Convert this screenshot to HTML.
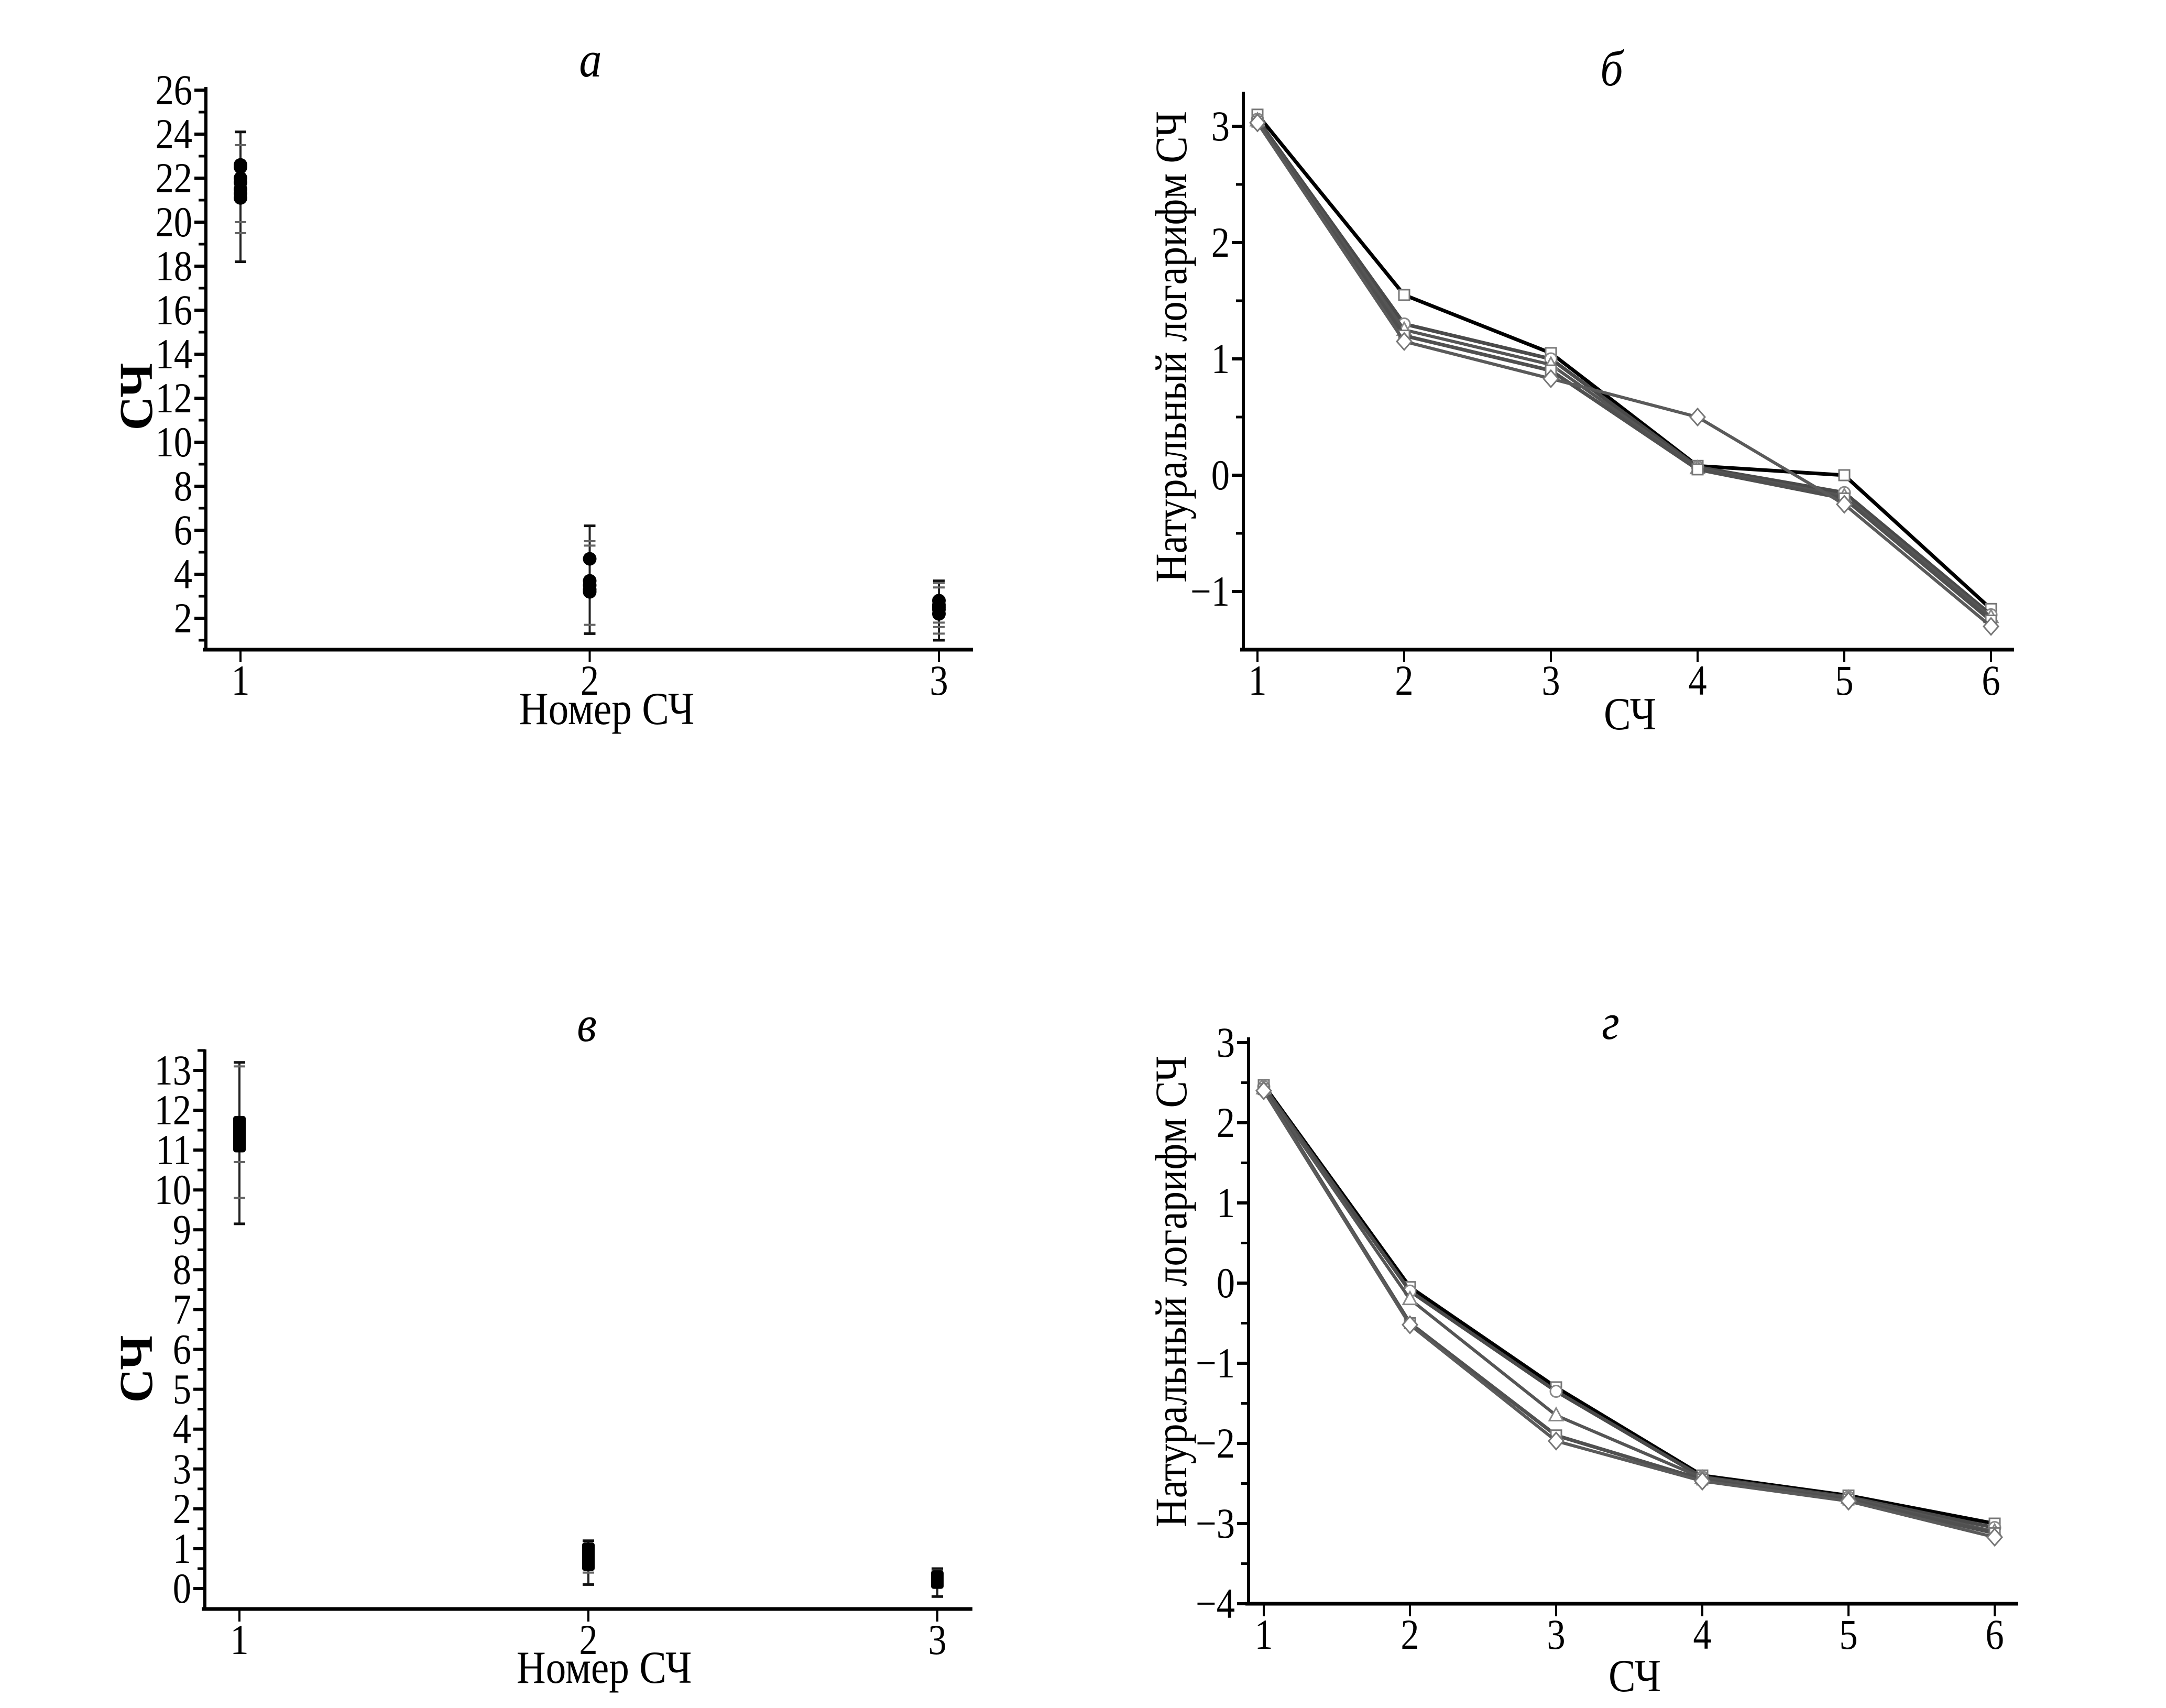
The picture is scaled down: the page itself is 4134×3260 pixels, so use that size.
<!DOCTYPE html>
<html><head><meta charset="utf-8"><style>
html,body{margin:0;padding:0;background:#fff;}
svg{display:block;}
text{font-family:"Liberation Serif",serif;fill:#000;}
</style></head><body>
<svg id="fig" width="4134" height="3260" viewBox="0 0 4134 3260" xmlns="http://www.w3.org/2000/svg"></svg>
<script>
// ---- Panel a data ----
const aCats = [1, 2, 3];
const aPoints = [[21.1, 21.3, 21.5, 21.8, 22.0, 22.5, 22.6],[3.2, 3.3, 3.5, 3.7, 4.7],[2.2, 2.4, 2.5, 2.6, 2.8]];
const aErrLo = [18.2, 1.3, 1.0];
const aErrHi = [24.1, 6.2, 3.7];
const aCaps = [[19.5, 20.0, 23.5],[1.7, 5.3, 5.5],[1.3, 1.6, 1.8, 3.4, 3.6]];
const aYTicks = [2,4,6,8,10,12,14,16,18,20,22,24,26];
// ---- Panel в data ----
const vCats = [1, 2, 3];
const vPoints = [[11.1, 11.2, 11.3, 11.4, 11.5, 11.6, 11.7],[0.6, 0.7, 0.8, 0.9, 1.0],[0.15, 0.2, 0.25, 0.3]];
const vErrLo = [9.15, 0.1, -0.2];
const vErrHi = [13.2, 1.2, 0.5];
const vCaps = [[9.8, 10.7, 13.1],[0.4],[0.45]];
const vYTicks = [0,1,2,3,4,5,6,7,8,9,10,11,12,13];
// ---- Panel б data ----
const bCats = [1,2,3,4,5,6];
const bS1 = [3.1, 1.55, 1.05, 0.08, 0.0, -1.15];
const bS2 = [3.06, 1.3, 1.0, 0.07, -0.15, -1.2];
const bS3 = [3.05, 1.25, 0.95, 0.06, -0.18, -1.22];
const bS4 = [3.04, 1.2, 0.9, 0.05, -0.2, -1.25];
const bS5 = [3.03, 1.15, 0.83, 0.5, -0.25, -1.3];
const bYTicks = [-1,0,1,2,3];
// ---- Panel г data ----
const gCats = [1,2,3,4,5,6];
const gS1 = [2.47, -0.05, -1.3, -2.4, -2.65, -3.0];
const gS2 = [2.45, -0.1, -1.35, -2.42, -2.67, -3.05];
const gS3 = [2.43, -0.2, -1.65, -2.43, -2.68, -3.1];
const gS4 = [2.42, -0.5, -1.9, -2.45, -2.7, -3.12];
const gS5 = [2.4, -0.52, -1.97, -2.47, -2.72, -3.17];
const gYTicks = [-4,-3,-2,-1,0,1,2,3];

const NS = "http://www.w3.org/2000/svg";
const svg = document.getElementById('fig');
function mk(tag, attrs, parent){
  const e = document.createElementNS(NS, tag);
  for (const k in attrs) e.setAttribute(k, attrs[k]);
  (parent||svg).appendChild(e);
  return e;
}
function lin(d0,d1,r0,r1){return v => r0 + (v-d0)*(r1-r0)/(d1-d0);}
function fmt(v){return v<0 ? '\u2212'+(-v) : ''+v;}
function ctext(g, x, y, size, anchor, sx){
  return mk('text',{x:0,y:0,'font-size':size,'text-anchor':anchor,transform:`translate(${x},${y}) scale(${sx},1)`},g);
}

function axes(g, o){
  let l = mk('line',{x1:o.ax,y1:o.top,x2:o.ax,y2:o.ay+3,stroke:'#000','stroke-width':6},g);
   
  l = mk('line',{x1:o.ax-6,y1:o.ay,x2:o.right,y2:o.ay,stroke:'#000','stroke-width':7},g);
   
  for (let v=o.yMin; v<=o.yMax+1e-9; v+=o.minorStep){
    const y=o.ys(v);
    if (y<o.top-2 || y>o.ay-5) continue;
    const t = mk('line',{x1:o.ax-14,y1:y,x2:o.ax,y2:y,stroke:'#000','stroke-width':5},g);
     
  }
  o.yTicks.forEach(v=>{
    const y=o.ys(v);
    const t = mk('line',{x1:o.ax-22,y1:y,x2:o.ax,y2:y,stroke:'#000','stroke-width':6},g);
     
    const tx = ctext(g, o.ax-26, y+27, 82, 'end', 0.86);
    tx.textContent = fmt(v);
     
  });
  o.cats.forEach(c=>{
    const x=o.xs(c);
    const t = mk('line',{x1:x,y1:o.ay,x2:x,y2:o.ay+24,stroke:'#000','stroke-width':4},g);
     
    const tx = ctext(g, x, o.ay+86, 82, 'middle', 0.86);
    tx.textContent = c;
     
  });
}
function labels(g, o){
  const t = mk('text',{x:0,y:0,'font-size':96,'font-style':'italic','text-anchor':'middle',transform:`translate(${o.tx},${o.ty}) scale(0.9,1)`},g);
  t.textContent=o.title;  
  const xl = ctext(g, o.xlx, o.xly, 88, 'middle', 0.88);
  xl.textContent=o.xlabel;  
  const yl = mk('text',{x:0,y:0,'font-size':o.ylSize,'text-anchor':'middle','transform':`translate(${o.ylx},${o.yly}) rotate(-90)`},g);
  if (o.ylLen) { yl.setAttribute('textLength',o.ylLen); yl.setAttribute('lengthAdjust','spacingAndGlyphs'); }
  if (o.ylBold) yl.setAttribute('font-weight','bold');
  yl.textContent=o.ylabel;  
}

function scatterPanel(name, o, cats, pts, lo, hi, caps, square){
  const g = mk('g',{});  
  axes(g,o);
  cats.forEach((c,i)=>{
    const x=o.xs(c);
    const e = mk('line',{x1:x,y1:o.ys(lo[i]),x2:x,y2:o.ys(hi[i]),stroke:'#222','stroke-width':4},g);
     
    [lo[i],hi[i]].forEach(v=>{
      const cp = mk('line',{x1:x-11,y1:o.ys(v),x2:x+11,y2:o.ys(v),stroke:'#111','stroke-width':5},g);
       
    });
    caps[i].forEach(v=>{
      const cp = mk('line',{x1:x-11,y1:o.ys(v),x2:x+11,y2:o.ys(v),stroke:'#666','stroke-width':4},g);
       
    });
    pts[i].forEach(v=>{
      let m;
      if (square) m = mk('rect',{x:x-12,y:o.ys(v)-12,width:24,height:24,rx:5,fill:'#000'},g);
      else m = mk('circle',{cx:x,cy:o.ys(v),r:13,fill:'#000'},g);
       
    });
  });
  labels(g,o);
}

function linePanel(name, o, cats, series){
  const g = mk('g',{});  
  axes(g,o);
  const styles = [{c:'#000',w:7,m:'sq'},{c:'#4a4a4a',w:7,m:'ci'},{c:'#555',w:6,m:'tri'},{c:'#505050',w:7,m:'sq'},{c:'#5a5a5a',w:6,m:'di'}];
  series.forEach((s,k)=>{
    const st = styles[k];
    const pts = cats.map((c,i)=>o.xs(c)+','+o.ys(s[i])).join(' ');
    const pl = mk('polyline',{points:pts,fill:'none',stroke:st.c,'stroke-width':st.w,'stroke-linejoin':'round'},g);
     
    cats.forEach((c,i)=>{
      const x=o.xs(c), y=o.ys(s[i]); let m;
      if (st.m==='di') m = mk('polygon',{points:`${x},${y-16} ${x+14},${y} ${x},${y+16} ${x-14},${y}`,fill:'#fff',stroke:'#777','stroke-width':3},g);
      else if (st.m==='tri') m = mk('polygon',{points:`${x},${y-14} ${x+13},${y+10} ${x-13},${y+10}`,fill:'#fff',stroke:'#888','stroke-width':3},g);
      else if (st.m==='ci') m = mk('circle',{cx:x,cy:y,r:11,fill:'#fff',stroke:'#888','stroke-width':3},g);
      else m = mk('rect',{x:x-10,y:y-10,width:20,height:20,fill:'#fff',stroke:'#777','stroke-width':3},g);
       
    });
  });
  labels(g,o);
}

(function(){
  const o = {ax:393, ay:1240, top:166, right:1857, xs:lin(1,3,459,1792), ys:lin(2,26,1180,172),
    yTicks:aYTicks, minorStep:1, yMin:1, yMax:26, cats:aCats,
    title:'а', tx:1127, ty:146, xlabel:'Номер СЧ', xlx:1158, xly:1382,
    ylabel:'СЧ', ylx:290, yly:757, ylSize:90, ylBold:true};
  scatterPanel('panel-a', o, aCats, aPoints, aErrLo, aErrHi, aCaps, false);
})();
(function(){
  const o = {ax:391, ay:3071, top:2003, right:1856, xs:lin(1,3,457,1789), ys:lin(0,13,3032,2043),
    yTicks:vYTicks, minorStep:0.5, yMin:-0.5, yMax:13.5, cats:vCats,
    title:'в', tx:1120, ty:1987, xlabel:'Номер СЧ', xlx:1153, xly:3212,
    ylabel:'СЧ', ylx:290, yly:2613, ylSize:90, ylBold:true};
  scatterPanel('panel-v', o, vCats, vPoints, vErrLo, vErrHi, vCaps, true);
})();
(function(){
  const o = {ax:2373, ay:1240, top:175, right:3844, xs:lin(1,6,2400,3800), ys:lin(-1,3,1129,241),
    yTicks:bYTicks, minorStep:0.5, yMin:-1.5, yMax:3.5, cats:bCats,
    title:'б', tx:3076, ty:163, xlabel:'СЧ', xlx:3111, xly:1392,
    ylabel:'Натуральный логарифм СЧ', ylx:2264, yly:662, ylSize:86, ylLen:900};
  linePanel('panel-b', o, bCats, [bS1,bS2,bS3,bS4,bS5]);
})();
(function(){
  const o = {ax:2383, ay:3061, top:1980, right:3852, xs:lin(1,6,2412,3807), ys:lin(-4,3,3061,1990),
    yTicks:gYTicks, minorStep:0.5, yMin:-4, yMax:3, cats:gCats,
    title:'г', tx:3074, ty:1983, xlabel:'СЧ', xlx:3120, xly:3228,
    ylabel:'Натуральный логарифм СЧ', ylx:2264, yly:2465, ylSize:86, ylLen:900};
  linePanel('panel-g', o, gCats, [gS1,gS2,gS3,gS4,gS5]);
})();
</script>
</body></html>
